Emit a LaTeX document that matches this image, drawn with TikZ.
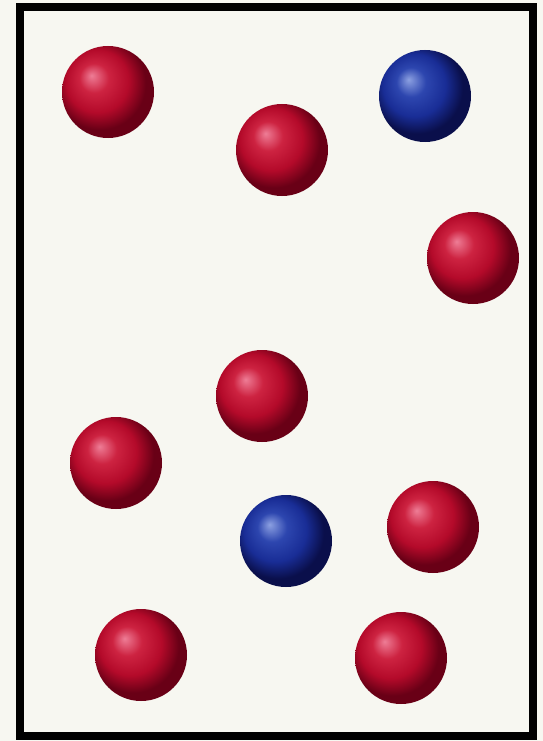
\documentclass[tikz,border=0pt]{standalone}
\definecolor{bg}{RGB}{247,247,241}
\definecolor{rhi}{RGB}{238,125,150}
\definecolor{rmid}{RGB}{205,35,65}
\definecolor{rbody}{RGB}{180,10,42}
\definecolor{redge}{RGB}{105,0,22}
\definecolor{bhi}{RGB}{140,160,225}
\definecolor{bmid}{RGB}{45,70,175}
\definecolor{bbody}{RGB}{25,45,150}
\definecolor{bedge}{RGB}{10,15,75}
\pgfdeclareradialshading{redball}{\pgfpoint{-9bp}{9bp}}{color(0bp)=(rhi); color(8bp)=(rmid); color(17bp)=(rbody); color(25bp)=(redge); color(50bp)=(redge)}
\pgfdeclareradialshading{blueball}{\pgfpoint{-9bp}{9bp}}{color(0bp)=(bhi); color(8bp)=(bmid); color(17bp)=(bbody); color(25bp)=(bedge); color(50bp)=(bedge)}
\tikzset{
  redsphere/.style={circle, minimum size=92pt, inner sep=0pt, shading=redball},
  bluesphere/.style={circle, minimum size=92pt, inner sep=0pt, shading=blueball},
  frame/.style={draw=black, line width=8pt}
}
\begin{document}
\begin{tikzpicture}[x=1pt,y=-1pt]
\fill[bg] (0,0) rectangle (543,741);
\useasboundingbox (0,0) rectangle (543,741);
\draw[frame] (20,7) rectangle (533,736);
\node[redsphere] (r1) at (108,92) {};
\node[bluesphere] (b1) at (425,96) {};
\node[redsphere] (r2) at (282,150) {};
\node[redsphere] (r3) at (473,258) {};
\node[redsphere] (r4) at (262,396) {};
\node[redsphere] (r5) at (116,463) {};
\node[bluesphere] (b2) at (286,541) {};
\node[redsphere] (r6) at (433,527) {};
\node[redsphere] (r7) at (141,655) {};
\node[redsphere] (r8) at (401,658) {};
\end{tikzpicture}
\end{document}
